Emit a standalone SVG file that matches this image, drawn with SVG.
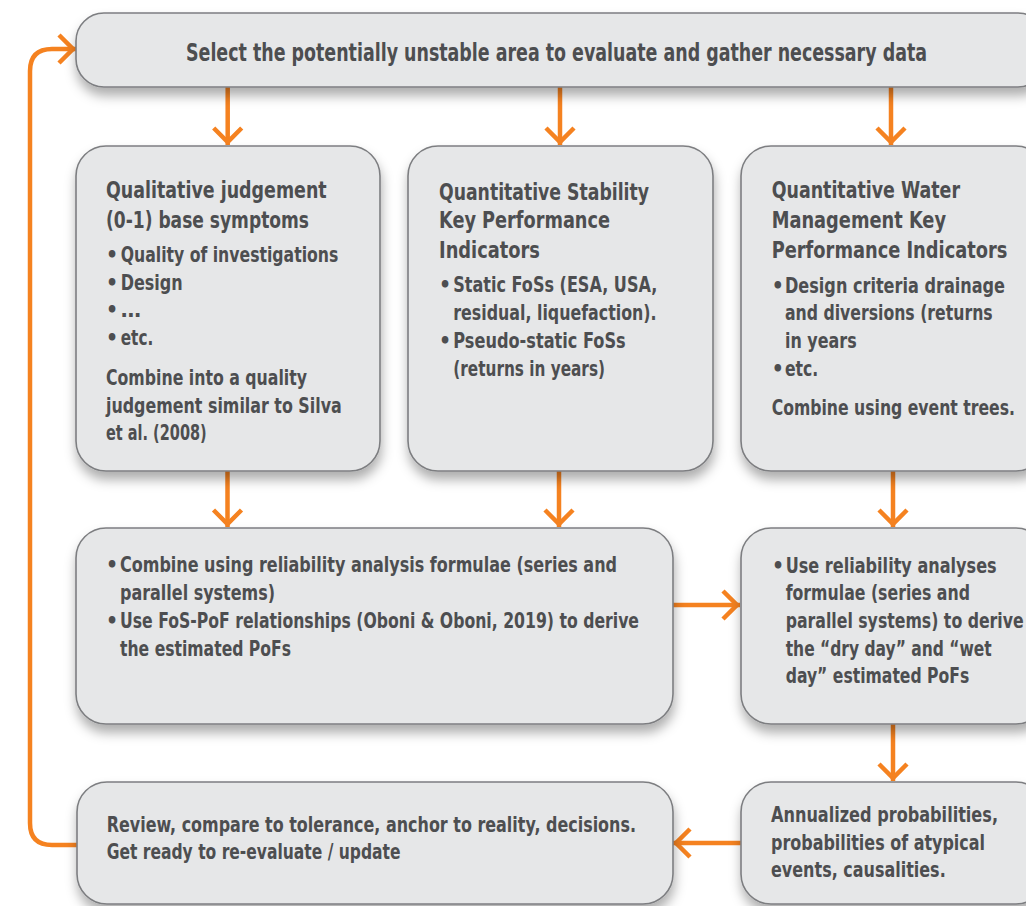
<svg xmlns="http://www.w3.org/2000/svg" width="1026" height="906" viewBox="0 0 1026 906">
  <defs>
    <filter id="shadow" x="-10%" y="-20%" width="120%" height="150%">
      <feDropShadow dx="1" dy="8" stdDeviation="6" flood-color="#000" flood-opacity="0.32"/>
    </filter>
    <marker id="chev" markerUnits="userSpaceOnUse" markerWidth="40" markerHeight="40" refX="0" refY="0" orient="auto" overflow="visible">
      <path d="M-17,-14 L-3,0 L-17,14" fill="none" stroke="#f58220" stroke-width="4.5" stroke-linejoin="miter"/>
    </marker>
    <style>
      .box { fill: #e6e7e8; stroke: #7d7e81; stroke-width: 1.6; filter: url(#shadow); }
      .conn { fill: none; stroke: #f58220; stroke-width: 4.5; marker-end: url(#chev); }
      text { font-family: "Liberation Sans Narrow", "DejaVu Sans Condensed", "Liberation Sans", sans-serif; font-weight: bold; fill: #4d4e50; }
      .top { font-size: 25px; }
      .h { font-size: 23px; }
      .b { font-size: 21px; }
    </style>
  </defs>

  <rect width="1026" height="906" fill="#ffffff"/>

  <!-- connectors -->
  <g id="connectors">
    <path class="conn" d="M227.7,87 V145"/>
    <path class="conn" d="M560,87 V145"/>
    <path class="conn" d="M891,87 V145"/>
    <path class="conn" d="M227.5,471 V527"/>
    <path class="conn" d="M559,471 V527"/>
    <path class="conn" d="M893,471 V527"/>
    <path class="conn" d="M672,605 H740"/>
    <path class="conn" d="M893,724 V781"/>
    <path class="conn" d="M741,843 H673"/>
    <path class="conn" d="M77,845 H52 Q30,845 30,823 V71 Q30,49 52,49 H76"/>
  </g>

  <!-- top: data gathering -->
  <g id="select-area">
    <rect class="box" x="76" y="13" width="970" height="74" rx="28"/>
    <text class="top" x="186" y="61" textLength="741" lengthAdjust="spacingAndGlyphs">Select the potentially unstable area to evaluate and gather necessary data</text>
  </g>

  <!-- qualitative judgement -->
  <g id="qualitative">
    <rect class="box" x="76" y="146" width="304" height="325" rx="30"/>
    <text class="h" x="106" y="198" textLength="220.7" lengthAdjust="spacingAndGlyphs">Qualitative judgement</text>
    <text class="h" x="106" y="228" textLength="203" lengthAdjust="spacingAndGlyphs">(0-1) base symptoms</text>
    <text class="b" x="106" y="262">•</text>
    <text class="b" x="120.7" y="262" textLength="217.6" lengthAdjust="spacingAndGlyphs">Quality of investigations</text>
    <text class="b" x="106" y="290">•</text>
    <text class="b" x="120.7" y="290" textLength="62" lengthAdjust="spacingAndGlyphs">Design</text>
    <text class="b" x="106" y="317">•</text>
    <text class="b" x="120.7" y="317" textLength="20.3" lengthAdjust="spacingAndGlyphs">…</text>
    <text class="b" x="106" y="345">•</text>
    <text class="b" x="120.7" y="345" textLength="32.6" lengthAdjust="spacingAndGlyphs">etc.</text>
    <text class="b" x="106" y="385" textLength="201" lengthAdjust="spacingAndGlyphs">Combine into a quality</text>
    <text class="b" x="106" y="413" textLength="235.7" lengthAdjust="spacingAndGlyphs">judgement similar to Silva</text>
    <text class="b" x="106" y="440" textLength="100.7" lengthAdjust="spacingAndGlyphs">et al. (2008)</text>
  </g>

  <!-- quantitative stability KPIs -->
  <g id="stability-kpi">
    <rect class="box" x="408" y="146" width="305" height="325" rx="30"/>
    <text class="h" x="439" y="200" textLength="210" lengthAdjust="spacingAndGlyphs">Quantitative Stability</text>
    <text class="h" x="439" y="228" textLength="171" lengthAdjust="spacingAndGlyphs">Key Performance</text>
    <text class="h" x="439" y="258" textLength="101" lengthAdjust="spacingAndGlyphs">Indicators</text>
    <text class="b" x="439" y="292">•</text>
    <text class="b" x="453.3" y="292" textLength="204" lengthAdjust="spacingAndGlyphs">Static FoSs (ESA, USA,</text>
    <text class="b" x="453.3" y="320" textLength="203.3" lengthAdjust="spacingAndGlyphs">residual, liquefaction).</text>
    <text class="b" x="439" y="348">•</text>
    <text class="b" x="453.3" y="348" textLength="172.4" lengthAdjust="spacingAndGlyphs">Pseudo-static FoSs</text>
    <text class="b" x="453.3" y="376" textLength="151.7" lengthAdjust="spacingAndGlyphs">(returns in years)</text>
  </g>

  <!-- quantitative water management KPIs -->
  <g id="water-kpi">
    <rect class="box" x="741" y="146" width="305" height="325" rx="30"/>
    <text class="h" x="771.7" y="198" textLength="188.3" lengthAdjust="spacingAndGlyphs">Quantitative Water</text>
    <text class="h" x="771.7" y="228" textLength="174.3" lengthAdjust="spacingAndGlyphs">Management Key</text>
    <text class="h" x="771.7" y="258" textLength="235.7" lengthAdjust="spacingAndGlyphs">Performance Indicators</text>
    <text class="b" x="771.7" y="293">•</text>
    <text class="b" x="785" y="293" textLength="220" lengthAdjust="spacingAndGlyphs">Design criteria drainage</text>
    <text class="b" x="785" y="320" textLength="207.7" lengthAdjust="spacingAndGlyphs">and diversions (returns</text>
    <text class="b" x="785" y="348" textLength="71.7" lengthAdjust="spacingAndGlyphs">in years</text>
    <text class="b" x="771.7" y="376">•</text>
    <text class="b" x="785" y="376" textLength="33.3" lengthAdjust="spacingAndGlyphs">etc.</text>
    <text class="b" x="771.7" y="415" textLength="243.3" lengthAdjust="spacingAndGlyphs">Combine using event trees.</text>
  </g>

  <!-- reliability analysis for stability -->
  <g id="stability-reliability">
    <rect class="box" x="76" y="528" width="597" height="196" rx="30"/>
    <text class="b" x="106" y="572">•</text>
    <text class="b" x="120" y="572" textLength="497" lengthAdjust="spacingAndGlyphs">Combine using reliability analysis formulae (series and</text>
    <text class="b" x="120" y="600" textLength="155" lengthAdjust="spacingAndGlyphs">parallel systems)</text>
    <text class="b" x="106" y="628">•</text>
    <text class="b" x="120" y="628" textLength="519" lengthAdjust="spacingAndGlyphs">Use FoS-PoF relationships (Oboni &amp; Oboni, 2019) to derive</text>
    <text class="b" x="120" y="656" textLength="171" lengthAdjust="spacingAndGlyphs">the estimated PoFs</text>
  </g>

  <!-- reliability analysis for water management -->
  <g id="water-reliability">
    <rect class="box" x="741" y="528" width="305" height="196" rx="30"/>
    <text class="b" x="772" y="573">•</text>
    <text class="b" x="785.7" y="573" textLength="211" lengthAdjust="spacingAndGlyphs">Use reliability analyses</text>
    <text class="b" x="785.7" y="600" textLength="184.3" lengthAdjust="spacingAndGlyphs">formulae (series and</text>
    <text class="b" x="785.7" y="628" textLength="238" lengthAdjust="spacingAndGlyphs">parallel systems) to derive</text>
    <text class="b" x="785.7" y="656" textLength="206" lengthAdjust="spacingAndGlyphs">the “dry day” and “wet</text>
    <text class="b" x="785.7" y="683" textLength="183.6" lengthAdjust="spacingAndGlyphs">day” estimated PoFs</text>
  </g>

  <!-- annualized probabilities -->
  <g id="annualized">
    <rect class="box" x="741" y="782" width="305" height="122" rx="30"/>
    <text class="b" x="771" y="822" textLength="227" lengthAdjust="spacingAndGlyphs">Annualized probabilities,</text>
    <text class="b" x="771" y="850" textLength="214" lengthAdjust="spacingAndGlyphs">probabilities of atypical</text>
    <text class="b" x="771" y="877" textLength="174.7" lengthAdjust="spacingAndGlyphs">events, causalities.</text>
  </g>

  <!-- review and decisions -->
  <g id="review">
    <rect class="box" x="77" y="782" width="596" height="122" rx="30"/>
    <text class="b" x="106.7" y="832" textLength="529.3" lengthAdjust="spacingAndGlyphs">Review, compare to tolerance, anchor to reality, decisions.</text>
    <text class="b" x="106.7" y="859" textLength="293.8" lengthAdjust="spacingAndGlyphs">Get ready to re-evaluate / update</text>
  </g>
</svg>
